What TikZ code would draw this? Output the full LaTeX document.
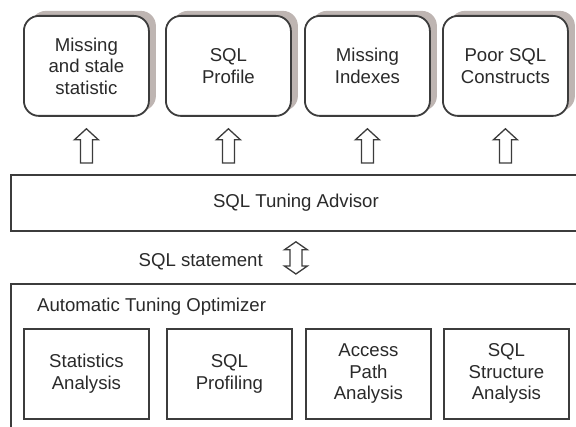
\documentclass[tikz,border=0pt]{standalone}
\usepackage{fontspec}
\setmainfont{Liberation Sans}
\usetikzlibrary{calc,shadows}
\definecolor{linec}{HTML}{3C3C3C}
\definecolor{shadc}{RGB}{190,181,178}
\definecolor{txtc}{HTML}{2A2A2A}
\tikzset{
 resbox/.style={draw=linec, line width=1.8pt, rounded corners=15pt, fill=white,
   minimum width=125pt, minimum height=100pt, align=center, text=txtc,
   general shadow={fill=shadc, shadow xshift=7pt, shadow yshift=5pt},
   anchor=north west, inner sep=0pt},
 anbox/.style={draw=linec, line width=1.8pt, fill=white, minimum width=125pt,
   minimum height=90pt, align=center, text=txtc, anchor=north west, inner sep=0pt},
 bigbox/.style={draw=linec, line width=1.8pt, anchor=north west, inner sep=0pt, text=txtc},
 arrowline/.style={draw=linec, line width=1.3pt, fill=white, line join=miter},
 lbl/.style={text=txtc, inner sep=0pt}
}
\newcommand\hollowup[2]{%
  \draw[arrowline] let \p1=($(#1.south)+(0,12)$), \p2=(#2.north) in
    (\x1,\y1) -- (\x1+12pt,\y1-11pt) -- (\x1+6pt,\y1-11pt) -- (\x1+6pt,\y2+11pt)
    -- (\x1-6pt,\y2+11pt) -- (\x1-6pt,\y1-11pt) -- (\x1-12pt,\y1-11pt) -- cycle;}
\newcommand\hollowboth[2]{%
  \draw[arrowline] let \p1=($(#1.south)+(0,10)$), \p2=($(#2.north)+(0,-9)$) in
    (\x1,\y1) -- (\x1+11.5pt,\y1-8pt) -- (\x1+6pt,\y1-8pt) -- (\x1+6pt,\y2+8pt)
    -- (\x1+11.5pt,\y2+8pt) -- (\x1,\y2) -- (\x1-11.5pt,\y2+8pt) -- (\x1-6pt,\y2+8pt)
    -- (\x1-6pt,\y1-8pt) -- (\x1-11.5pt,\y1-8pt) -- cycle;}
\begin{document}
\begin{tikzpicture}[x=1pt,y=-1pt,font=\fontsize{18.6}{21.5}\selectfont]
\useasboundingbox (0,0) rectangle (576,427);
\clip (0,0) rectangle (576,427);
\fill[white] (0,0) rectangle (576,427);
% results
\node[resbox] (r1) at (23,15) {Missing\\and stale\\statistic};
\node[resbox] (r2) at (165,15) {SQL\\Profile};
\node[resbox] (r3) at (304,15) {Missing\\Indexes};
\node[resbox] (r4) at (442,15) {Poor SQL\\Constructs};
% advisor
\node[bigbox, minimum width=570pt, minimum height=56pt] (adv) at (10,174) {SQL Tuning Advisor};
% optimizer
\node[bigbox, minimum width=580pt, minimum height=170pt] (ato) at (10,283) {};
\node[lbl, anchor=base west] (atolbl) at ($(ato.north west)+(27,29)$) {Automatic Tuning Optimizer};
\node[anbox] (a1) at (23,328) {Statistics\\Analysis};
\node[anbox] (a2) at (166,328) {SQL\\Profiling};
\node[anbox] (a3) at (305,328) {Access\\Path\\Analysis};
\node[anbox] (a4) at (443,328) {SQL\\Structure\\Analysis};
% arrows
\hollowup{r1}{adv}
\hollowup{r2}{adv}
\hollowup{r3}{adv}
\hollowup{r4}{adv}
\hollowboth{adv}{ato}
\node[lbl, anchor=base east] (stmt) at ($(adv.south)+(-33,35)$) {SQL statement};
\end{tikzpicture}
\end{document}
